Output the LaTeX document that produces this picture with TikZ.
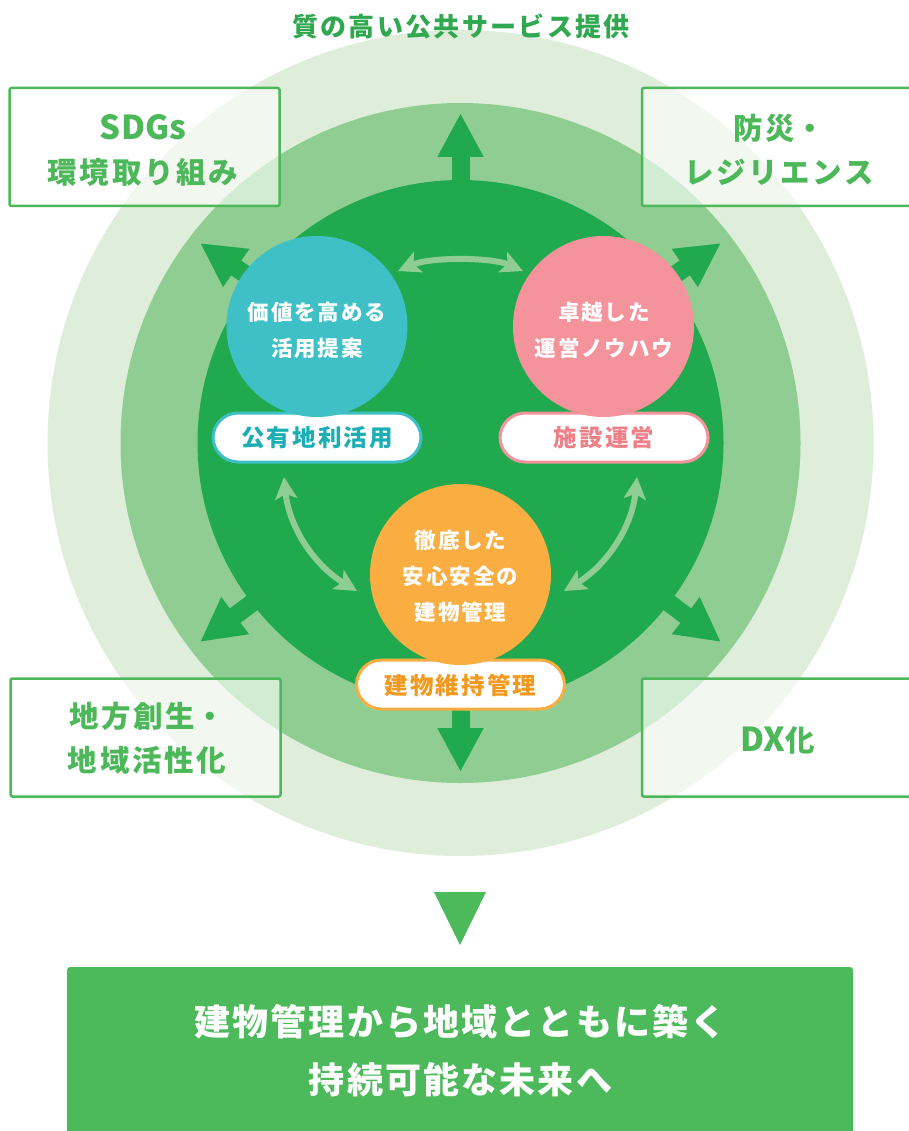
\documentclass[tikz,border=0pt]{standalone}
\usepackage{fontspec}
\newfontfamily\jp{Noto Sans CJK JP}[LetterSpace=9]
\newfontfamily\jpn{Noto Sans CJK JP}
\newfontfamily\jpb{Noto Sans CJK JP}[LetterSpace=6]
\usetikzlibrary{arrows.meta}
\definecolor{outerc}{HTML}{DFEEDA}
\definecolor{midc}{HTML}{8FCD92}
\definecolor{innerc}{HTML}{20A94E}
\definecolor{titlec}{HTML}{2FA84F}
\definecolor{boxc}{HTML}{4DB859}
\definecolor{tealc}{HTML}{3EC0C6}
\definecolor{tealt}{HTML}{1BAFB5}
\definecolor{pinkc}{HTML}{F4939B}
\definecolor{pinkt}{HTML}{EE8088}
\definecolor{orangec}{HTML}{FAAE42}
\definecolor{oranget}{HTML}{F29A20}
\definecolor{bottomc}{HTML}{4CB95A}
\tikzset{
  ring/.style={circle, inner sep=0pt, minimum size=#1},
  topicbox/.style={draw=boxc, line width=2.5pt, fill=white, fill opacity=0.6, rounded corners=2pt, minimum width=270pt, minimum height=118pt, inner sep=0pt},
  boxtext/.style={text=boxc, align=center, font=\jp\bfseries\fontsize{29.5}{44}\selectfont},
  bigarrow/.style={draw=innerc, line width=18pt, -{Triangle[length=44pt,width=43pt]}},
  linkarrow/.style={draw=midc, line width=6pt, {Stealth[length=22pt,width=22pt,inset=5pt]}-{Stealth[length=22pt,width=22pt,inset=5pt]}},
  bubble/.style={circle, inner sep=0pt, minimum size=181pt},
  bubbletext/.style={text=white, align=center, font=\jp\bfseries\fontsize{21.5}{36}\selectfont},
  pill/.style={fill=white, line width=3pt, rounded corners=25pt, minimum width=208pt, minimum height=49pt, inner sep=0pt, font=\jp\bfseries\fontsize{23.5}{28}\selectfont},
}
\newcommand{\latin}[1]{{\jpn\bfseries\fontsize{33}{44}\selectfont #1}}
\begin{document}
\begin{tikzpicture}[x=1pt,y=-1pt]
\useasboundingbox (0,0) rectangle (908,1131);
\fill[white] (0,0) rectangle (908,1131);
% rings
\node[ring=826pt, fill=outerc] (outer) at (460.5,443) {};
\node[ring=680pt, fill=midc] (mid) at (460.5,443) {};
\node[ring=526pt, fill=innerc] (inner) at (460.5,443) {};
% title
\node[text=titlec, font=\jp\bfseries\fontsize{26}{30}\selectfont] (title) at (461,26) {質の高い公共サービス提供};
% big arrows
\coordinate (upS) at (460.5,200); \coordinate (upT) at (460.5,113);
\coordinate (dnS) at (460.5,700); \coordinate (dnT) at (460.5,772);
\coordinate (ulS) at (274,294); \coordinate (ulT) at (200,243);
\coordinate (urS) at (647,294); \coordinate (urT) at (721,243);
\coordinate (llS) at (280,582); \coordinate (llT) at (200,642);
\coordinate (lrS) at (641,582); \coordinate (lrT) at (721,642);
\draw[bigarrow] (upS) -- (upT);
\draw[bigarrow] (dnS) -- (dnT);
\draw[bigarrow] (ulS) -- (ulT);
\draw[bigarrow] (urS) -- (urT);
\draw[bigarrow] (llS) -- (llT);
\draw[bigarrow] (lrS) -- (lrT);
% corner boxes
\node[topicbox] (b1) at (144.5,147) {};
\node[boxtext] (t1) at (143,150) {\latin{SDGs}\\環境取り組み};
\node[topicbox, minimum width=270pt] (b2) at (777,147) {};
\node[boxtext] (t2) at (779,150) {防災{\jpn・}\\レジリエンス};
\node[topicbox] (b3) at (145.5,737.5) {};
\node[boxtext] (t3) at (147,738) {地方創生{\jpn・}\\地域活性化};
\node[topicbox, minimum width=270pt] (b4) at (777,737.5) {};
\node[boxtext] (t4) at (778,740) {\latin{DX}化};
% pills
\node[pill, draw=tealc, text=tealt] (p1) at (317,437.5) {公有地利活用};
\node[pill, draw=pinkc, text=pinkt] (p2) at (604,437.5) {施設運営};
\node[pill, draw=orangec, text=oranget] (p3) at (460.5,684.5) {\phantom{建物維持管理}};
% bubbles
\node[bubble, fill=tealc] (c1) at (317,326.5) {};
\node[bubble, fill=pinkc] (c2) at (603.5,326.5) {};
\node[bubble, fill=orangec] (c3) at (460.5,574.5) {};
\node[text=oranget, font=\jp\bfseries\fontsize{23.5}{28}\selectfont] (p3t) at (460.5,685.5) {建物維持管理};
\node[bubbletext] (c1t) at (317,330) {価値を高める\\活用提案};
\node[bubbletext] (c2t) at (604,330) {卓越した\\運営ノウハウ};
\node[bubbletext] (c3t) at (460.5,576) {徹底した\\安心安全の\\建物管理};
% link arrows
\coordinate (a1) at (398,271); \coordinate (a2) at (523,271);
\coordinate (a3) at (284,477); \coordinate (a4) at (357,591);
\coordinate (a5) at (637,477); \coordinate (a6) at (564,591);
\draw[linkarrow] (a1) .. controls (430,257) and (491,257) .. (a2);
\draw[linkarrow] (a3) .. controls (289,527) and (314,565) .. (a4);
\draw[linkarrow] (a5) .. controls (632,527) and (607,565) .. (a6);
% bottom
\coordinate (triL) at (434,892); \coordinate (triR) at (486,892); \coordinate (triB) at (460,945);
\fill[bottomc] (triL) -- (triR) -- (triB) -- cycle;
\fill[bottomc, rounded corners=3pt] (67,967) rectangle (853,1140);
\node[text=white, align=center, font=\jpb\bfseries\fontsize{36}{58}\selectfont] (goal) at (460.5,1051) {建物管理から地域とともに築く\\持続可能な未来へ};
\end{tikzpicture}
\end{document}
